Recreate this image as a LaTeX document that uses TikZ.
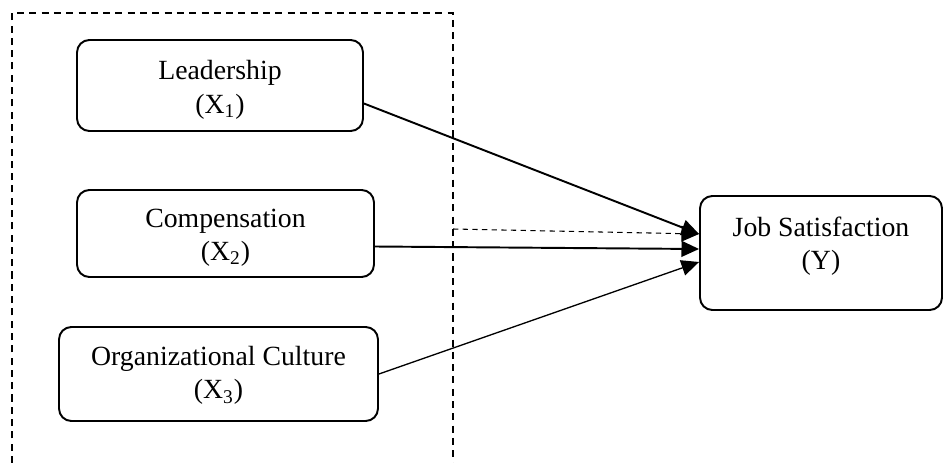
\documentclass[tikz,border=0pt]{standalone}
\usepackage{fontspec}
\setmainfont{Liberation Serif}
\usetikzlibrary{arrows.meta,calc}

\tikzset{
  var/.style={draw, line width=1.1pt, rounded corners=7pt, align=center, inner sep=0pt,
    font=\fontsize{15.8}{19}\selectfont},
  link/.style={-{Triangle[length=10pt,width=9pt]}, line width=1.1pt},
  frame/.style={line width=1pt, dash pattern=on 4pt off 3pt}
}

\begin{document}
\begin{tikzpicture}[x=0.02cm, y=-0.02cm]
    \useasboundingbox (0,0) rectangle (944,463);

    \node[var, minimum width=5.72cm, minimum height=1.82cm] (lead) at (220,85.5) {};
    \node[var, minimum width=5.94cm, minimum height=1.74cm] (comp) at (225.5,233.5) {};
    \node[var, minimum width=6.38cm, minimum height=1.88cm] (org) at (218.5,374) {};
    \node[var, minimum width=4.84cm, minimum height=2.28cm] (job) at (821,253) {};

    \node[var, draw=none] (leadtext) at (220,90) {Leadership\\(X\textsubscript{1})};
    \node[var, draw=none] (comptext) at (225.5,237.5) {Compensation\\(X\textsubscript{2})};
    \node[var, draw=none] (orgtext) at (218.5,375.5) {Organizational Culture\\(X\textsubscript{3})};
    \node[var, draw=none] (jobtext) at (821,246) {Job Satisfaction\\(Y)};

    % dashed frame round the three X's
    \draw[frame] (12,463) -- (12,13) -- (453,13) -- (453,463);
    \coordinate (gate) at (453,229);

    \draw[link] ($(lead.east)+(0,18)$) -- ($(job.west)+(0,-19)$);
    \draw[link] ($(comp.east)+(0,13)$) -- ($(job.west)+(0,-4)$);
    \draw[link, line width=0.75pt] (org.east) -- ($(job.west)+(0,9)$);
    \draw[link, line width=0.6pt, dash pattern=on 3pt off 2.5pt] (gate) -- ($(job.west)+(0,-19)$);
  \end{tikzpicture}
\end{document}
